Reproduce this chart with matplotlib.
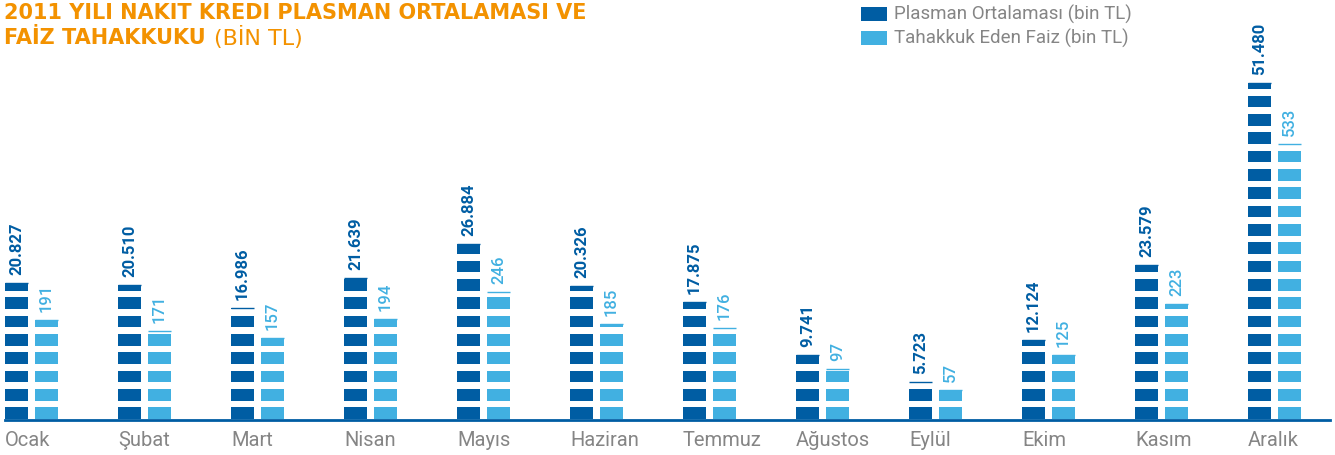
import matplotlib
matplotlib.use("Agg")
import matplotlib.pyplot as plt
from matplotlib.patches import Rectangle
from matplotlib.lines import Line2D

months = ["Ocak", "Şubat", "Mart", "Nisan", "Mayıs", "Haziran",
          "Temmuz", "Ağustos", "Eylül", "Ekim", "Kasım", "Aralık"]
plasman = [20827, 20510, 16986, 21639, 26884, 20326,
           17875, 9741, 5723, 12124, 23579, 51480]
faiz = [191, 171, 157, 194, 246, 185, 176, 97, 57, 125, 223, 533]

DARK = "#005da3"
LIGHT = "#41b0e1"
ORANGE = "#f39200"
GREY = "#858585"

W, H = 1335, 455
fig = plt.figure(figsize=(W / 100, H / 100), dpi=100)
plt.rcParams["font.family"] = ["Roboto", "DejaVu Sans"]

base_px = 419
top_px = 60
ax = fig.add_axes([0, (H - base_px) / H, 1, (base_px - top_px) / H])
ax2 = ax.twinx()
for a in (ax, ax2):
    a.set_axis_off()
    a.patch.set_visible(False)

pitch = 113.0
bar_w = 23 / pitch
off = 30 / pitch
ax.set_xlim(-5 / pitch, (W - 5) / pitch)
ax2.set_xlim(ax.get_xlim())
ax.set_ylim(0, 359 * 153.2)
ax2.set_ylim(0, 359 * 1.938)

x = list(range(len(months)))
x2 = [i + off for i in x]
ax.bar(x, plasman, width=bar_w, align="edge", color=DARK, zorder=1)
ax2.bar(x2, faiz, width=bar_w, align="edge", color=LIGHT, zorder=1)

# white gaps that cut the bars into blocks
stripe = 18.33
block = 11.7
k = 0
while k * stripe < 359:
    y0 = (k * stripe + block) / 359
    ax2.add_patch(Rectangle((0, y0), 1, (stripe - block) / 359,
                            transform=ax2.transAxes, color="white",
                            lw=0, zorder=3))
    k += 1

# thin line marking the exact top of every bar
for i, v in zip(x, plasman):
    ax2.plot([i, i + bar_w], [v, v], transform=ax.transData,
             color=DARK, lw=1, solid_capstyle="butt", zorder=4)
for i, v in zip(x2, faiz):
    ax2.plot([i, i + bar_w], [v, v], color=LIGHT, lw=1,
             solid_capstyle="butt", zorder=4)

# value labels
for i, v in zip(x, plasman):
    ax2.annotate(f"{v:,}".replace(",", "."), (i + bar_w / 2, v),
                 xycoords=ax.transData, xytext=(0, 8), textcoords="offset pixels",
                 rotation=90, ha="center", va="bottom", fontsize=12,
                 fontweight="bold", color=DARK, zorder=5)
for i, v in zip(x2, faiz):
    ax2.annotate(str(v), (i + bar_w / 2, v),
                 xytext=(0, 8), textcoords="offset pixels",
                 rotation=90, ha="center", va="bottom", fontsize=12,
                 fontweight="medium", color=LIGHT, zorder=5)

# month labels
for i, m in enumerate(months):
    fig.text((5 + pitch * i) / W, (H - 440) / H, m, ha="left", va="center",
             fontsize=14.5, color=GREY)

# baseline
fig.add_artist(Line2D([5 / W, 1330 / W], [(H - 420) / H] * 2,
                      color=DARK, lw=2, transform=fig.transFigure))

# title
tfont = dict(family="DejaVu Sans", color=ORANGE, va="center")
fig.text(4 / W, (H - 13) / H, "2011 YILI NAKIT KREDI PLASMAN ORTALAMASI VE",
         fontweight="bold", fontsize=15, **tfont)
t = fig.text(4 / W, (H - 38) / H, "FAİZ TAHAKKUKU", fontweight="bold",
             fontsize=15, **tfont)
fig.canvas.draw()
bb = t.get_window_extent()
fig.text((bb.x1 + 8) / W, (H - 38) / H, "(BİN TL)", fontsize=16, **tfont)

# legend
for j, (lab, col) in enumerate([("Plasman Ortalaması (bin TL)", DARK),
                                ("Tahakkuk Eden Faiz (bin TL)", LIGHT)]):
    yc = 14 + 24 * j
    fig.add_artist(Rectangle((861 / W, (H - yc - 7) / H), 26 / W, 14 / H,
                             transform=fig.transFigure, color=col, lw=0))
    fig.text(894 / W, (H - yc) / H, lab, fontsize=13.5, color=GREY,
             va="center", ha="left")

fig.savefig("out.png", dpi=100)
